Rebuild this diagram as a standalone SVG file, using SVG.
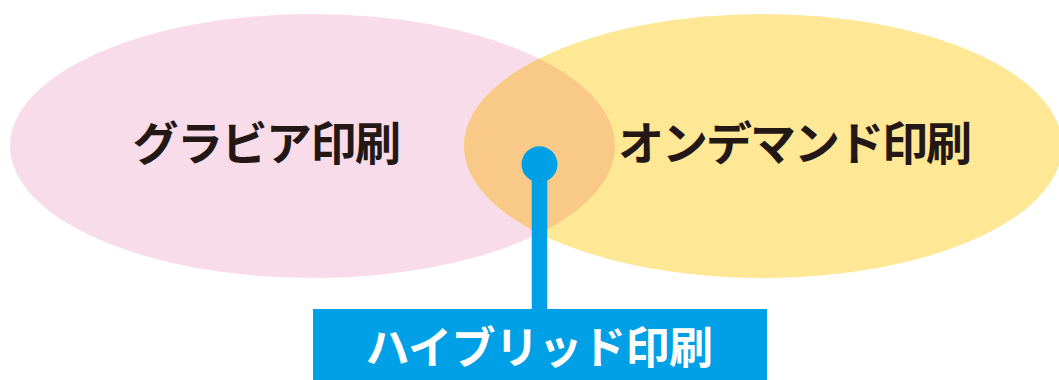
<svg xmlns="http://www.w3.org/2000/svg" width="1059" height="380" viewBox="0 0 1059 380">
<style>
.lbl{font-family:"Noto Sans CJK JP","Noto Sans CJK SC",sans-serif;font-weight:700;text-anchor:middle}
.dark{fill:#231815}
.white{fill:#ffffff}
</style>
<defs>
<clipPath id="pinkClip"><ellipse cx="312.5" cy="146" rx="302.5" ry="132"/></clipPath>
</defs>
<rect width="1059" height="380" fill="#ffffff"/>
<g id="gravure">
<ellipse cx="312.5" cy="146" rx="302.5" ry="132" fill="#F9DCEA"/>
</g>
<g id="ondemand">
<ellipse cx="763" cy="146" rx="299" ry="132" fill="#FEE795"/>
</g>
<g id="overlap">
<ellipse cx="763" cy="146" rx="299" ry="132" fill="#F8C987" clip-path="url(#pinkClip)"/>
</g>
<g id="labels">
<text class="lbl dark" x="266" y="160" font-size="46" letter-spacing="-1.5">グラビア印刷</text>
<text class="lbl dark" x="794" y="160" font-size="46" letter-spacing="-2">オンデマンド印刷</text>
</g>
<g id="connectors">
<line x1="539.5" y1="164" x2="539.5" y2="312" stroke="#00A0E6" stroke-width="15.5"/>
<circle cx="539.5" cy="164.3" r="18" fill="#00A0E6"/>
</g>
<g id="hybrid">
<rect x="313" y="309" width="454" height="71" fill="#00A0E6"/>
<text class="lbl white" x="539" y="364" font-size="44" letter-spacing="-0.5">ハイブリッド印刷</text>
</g>
</svg>
